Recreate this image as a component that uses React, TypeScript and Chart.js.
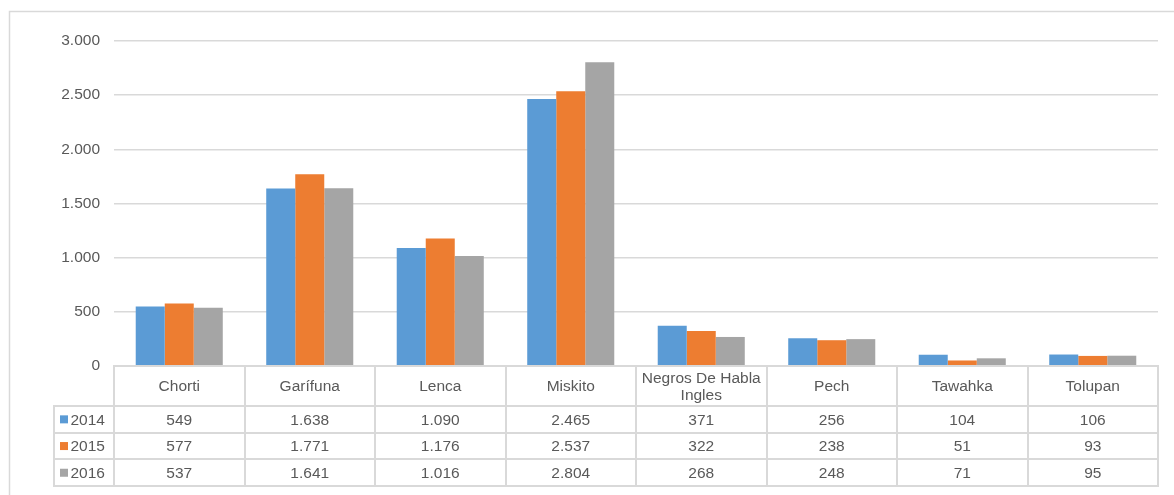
import React, { useEffect, useRef } from "react";
import { Chart, registerables } from "chart.js";

Chart.register(...registerables);

const categories = ["Chorti", "Garífuna", "Lenca", "Miskito", "Negros De Habla Ingles", "Pech", "Tawahka", "Tolupan"];
const categoryLines = [["Chorti"], ["Garífuna"], ["Lenca"], ["Miskito"], ["Negros De Habla", "Ingles"], ["Pech"], ["Tawahka"], ["Tolupan"]];
const seriesNames = ["2014", "2015", "2016"];
const values2014 = [549, 1638, 1090, 2465, 371, 256, 104, 106];
const values2015 = [577, 1771, 1176, 2537, 322, 238, 51, 93];
const values2016 = [537, 1641, 1016, 2804, 268, 248, 71, 95];
const colors = ["#5B9BD5", "#ED7D31", "#A5A5A5"];

const FONT = "'Liberation Sans', Arial, sans-serif";
const FS = 15.5;
const TEXT = "#595959";
const LINE = "#D9D9D9";

function fmt(v: number): string {
  return v.toString().replace(/\B(?=(\d{3})+(?!\d))/g, ".");
}

export default function App() {
  const ref = useRef<HTMLCanvasElement | null>(null);
  useEffect(() => {
    const canvas = ref.current!;
    const allSeries = [values2014, values2015, values2016];
    const tablePlugin = {
      id: "dataTable",
      afterDraw(chart: any) {
        const ctx = chart.ctx as CanvasRenderingContext2D;
        const area = chart.chartArea;
        const x = chart.scales.x;
        const n = categories.length;
        const colW = (area.right - area.left) / n;
        const top = area.bottom;
        const rowCat = top + 40;
        const rowH = 26.7;
        const legendLeft = 54;
        ctx.save();
        ctx.strokeStyle = LINE;
        // outer border (only top and left visible)
        ctx.lineWidth = 1.5;
        ctx.strokeRect(9.5, 11.5, 1300, 600);
        ctx.lineWidth = 2;
        ctx.beginPath();
        const hl = (y: number, x1: number, x2: number) => {
          ctx.moveTo(x1 - 1, Math.round(y));
          ctx.lineTo(x2 + 1, Math.round(y));
        };
        const vl = (xx: number, y1: number, y2: number) => {
          ctx.moveTo(Math.round(xx), y1);
          ctx.lineTo(Math.round(xx), y2);
        };
        hl(top, area.left, area.right);
        for (let r = 0; r <= 3; r++) hl(rowCat + r * rowH, legendLeft, area.right);
        vl(legendLeft, rowCat, rowCat + 3 * rowH);
        for (let i = 0; i <= n; i++) vl(area.left + i * colW, top, rowCat + 3 * rowH);
        ctx.stroke();

        ctx.fillStyle = TEXT;
        ctx.font = `${FS}px ${FONT}`;
        ctx.textAlign = "center";
        ctx.textBaseline = "middle";
        for (let i = 0; i < n; i++) {
          const cx = x.getPixelForValue(i);
          const lines = categoryLines[i];
          const lh = 16.5;
          const startY = (top + rowCat) / 2 + 1 - ((lines.length - 1) * lh) / 2;
          lines.forEach((l, k) => ctx.fillText(l, cx, startY + k * lh));
          for (let s = 0; s < 3; s++) {
            ctx.fillText(fmt(allSeries[s][i]), cx, rowCat + s * rowH + rowH / 2 + 1);
          }
        }
        ctx.textAlign = "left";
        for (let s = 0; s < 3; s++) {
          const cy = rowCat + s * rowH + rowH / 2;
          ctx.fillStyle = colors[s];
          ctx.fillRect(60, cy - 4, 8, 8);
          ctx.fillStyle = TEXT;
          ctx.fillText(seriesNames[s], 70.5, cy + 1);
        }
        ctx.restore();
      },
    };
    const chart = new Chart(canvas, {
      type: "bar",
      data: {
        labels: categories,
        datasets: allSeries.map((d, i) => ({
          label: seriesNames[i],
          data: d,
          backgroundColor: colors[i],
          barPercentage: 1,
          categoryPercentage: 0.667,
        })),
      },
      options: {
        animation: false,
        responsive: false,
        layout: { padding: { top: 41, right: 16, bottom: 129, left: 0 } },
        plugins: { legend: { display: false }, tooltip: { enabled: false } },
        scales: {
          x: { display: false },
          y: {
            min: 0,
            max: 3000,
            afterFit: (scale: any) => {
              scale.width = 114;
            },
            border: { display: false },
            grid: { color: LINE, lineWidth: 1.5, drawTicks: false },
            ticks: {
              stepSize: 500,
              padding: 14,
              color: TEXT,
              font: { family: FONT, size: FS },
              callback: (v: any) => fmt(Number(v)),
            },
          },
        },
      },
      plugins: [tablePlugin],
    });
    return () => chart.destroy();
  }, []);
  return (
    <div style={{ position: "absolute", left: 0, top: 0, width: 1174, height: 495, background: "#fff" }}>
      <canvas ref={ref} width={1174} height={495} style={{ width: 1174, height: 495 }} />
    </div>
  );
}
